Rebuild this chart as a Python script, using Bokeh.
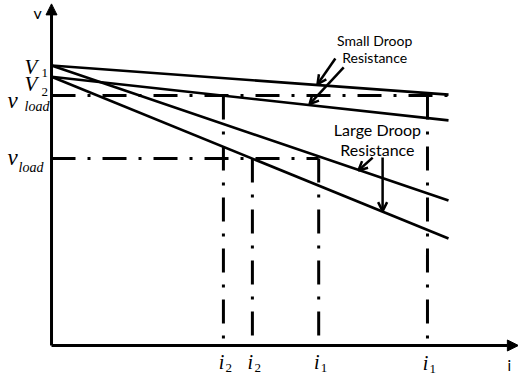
from bokeh.plotting import figure
from bokeh.models import Arrow, NormalHead, OpenHead, Range1d
from bokeh.core.properties import value
from bokeh.embed import file_html
from bokeh.resources import INLINE

# Droop characteristics: no-load voltage and voltage at full current
droop_v0 = [10.0, 9.6, 10.0, 9.6]
droop_v_full = [8.96, 8.04, 5.18, 3.82]
I_FULL = 10.0

# Load voltage levels (small droop, large droop)
v_load = [8.93, 6.68]

# Operating currents read on the i axis, and the load voltage each one comes from
i_points = [4.33, 5.06, 6.73, 9.47]
i_subscripts = ["2", "2", "1", "1"]
i_from_v = [8.93, 6.68, 6.68, 8.93]
i_label_drop = [0, 0, 0, 1]

# Extent of the load-voltage guide lines
v_load_end = [10.0, 6.73]

V_TOP = 12.2
I_RIGHT = 11.76

W, H = 518, 378
p = figure(width=W, height=H, output_backend="svg", toolbar_location=None,
           x_axis_type=None, y_axis_type=None, min_border=0,
           x_range=Range1d(-1.285, 11.763), y_range=Range1d(-1.179, 12.321))
p.grid.visible = False
p.outline_line_color = None
p.background_fill_color = "white"
p.border_fill_color = "white"

BLACK = "#000000"
DASHDOT = "24 12 3 12"

# axes with arrow heads
p.add_layout(Arrow(end=NormalHead(size=11, fill_color=BLACK, line_color=BLACK),
                   x_start=0, y_start=0, x_end=0, y_end=V_TOP, line_width=3, line_color=BLACK))
p.add_layout(Arrow(end=NormalHead(size=11, fill_color=BLACK, line_color=BLACK),
                   x_start=0, y_start=0, x_end=I_RIGHT, y_end=0, line_width=3, line_color=BLACK))

# droop lines
p.segment(x0=[0] * 4, y0=droop_v0, x1=[I_FULL] * 4, y1=droop_v_full,
          line_width=2.6, line_color=BLACK)

# load voltage guides
p.segment(x0=[0, 0], y0=v_load, x1=v_load_end, y1=v_load,
          line_width=3, line_color=BLACK, line_dash=DASHDOT)

# operating current drop lines
p.segment(x0=i_points, y0=i_from_v, x1=i_points, y1=[0.25] * 4,
          line_width=3, line_color=BLACK, line_dash=DASHDOT)

# callout arrows
def callout(x0, y0, x1, y1):
    p.add_layout(Arrow(end=OpenHead(size=9, line_width=2.5, line_color=BLACK),
                       x_start=x0, y_start=y0, x_end=x1, y_end=y1,
                       line_width=2.5, line_color=BLACK))

callout(7.15, 10.25, 6.70, 9.33)
callout(7.36, 9.93, 6.50, 8.62)
callout(8.09, 6.71, 7.73, 6.25)
callout(8.34, 6.71, 8.34, 4.80)

SANS = value("Lato")
SERIF = value("Liberation Serif")

p.text(x=[8.14, 8.14], y=[10.89, 10.29], text=["Small Droop", "Resistance"],
       text_font=SANS, text_font_size="14px", text_align="center",
       text_baseline="middle", text_color=BLACK)
p.text(x=[8.21, 8.21], y=[7.71, 7.0], text=["Large Droop", "Resistance"],
       text_font=SANS, text_font_size="16px", text_align="center",
       text_baseline="middle", text_color=BLACK)

# axis names
p.text(x=[0], y=[V_TOP], text=["v"], text_font=SANS, text_font_size="16px",
       text_align="left", text_baseline="alphabetic", x_offset=-18, y_offset=9,
       text_color=BLACK)
p.text(x=[I_RIGHT], y=[0], text=["i"], text_font=SANS, text_font_size="15px",
       text_align="center", text_baseline="alphabetic", x_offset=-9, y_offset=20,
       text_color=BLACK)

# voltage labels on the v axis
p.text(x=[0, 0], y=[droop_v0[0], droop_v0[1]], text=["V", "V"], text_font=SERIF,
       text_font_style="italic", text_font_size="21px", text_align="left",
       text_baseline="alphabetic", x_offset=-27, y_offset=[2, 7], text_color=BLACK)
p.text(x=[0, 0], y=[droop_v0[0], droop_v0[1]], text=["1", "2"], text_font=SERIF,
       text_font_size="13px", text_align="left", text_baseline="alphabetic",
       x_offset=-10, y_offset=[8, 15], text_color=BLACK)

p.text(x=[0, 0], y=v_load, text=["v", "v"], text_font=SERIF, text_font_style="italic",
       text_font_size="23px", text_align="left", text_baseline="alphabetic",
       x_offset=-44, y_offset=[5, -1], text_color=BLACK)
p.text(x=[0, 0], y=v_load, text=["load", "load"], text_font=SERIF, text_font_style="italic",
       text_font_size="14px", text_align="left", text_baseline="alphabetic",
       x_offset=[-27, -33], y_offset=[11, 9], text_color=BLACK)

# current labels on the i axis
p.text(x=i_points, y=[0] * 4, text=["i"] * 4, text_font=SERIF, text_font_style="italic",
       text_font_size="20px", text_align="center", text_baseline="alphabetic",
       x_offset=-2, y_offset=[17 + d for d in i_label_drop], text_color=BLACK)
p.text(x=i_points, y=[0] * 4, text=i_subscripts, text_font=SERIF,
       text_font_size="13px", text_align="left", text_baseline="alphabetic",
       x_offset=2, y_offset=[23 + d for d in i_label_drop], text_color=BLACK)

open("out.html", "w").write(file_html(p, INLINE))
